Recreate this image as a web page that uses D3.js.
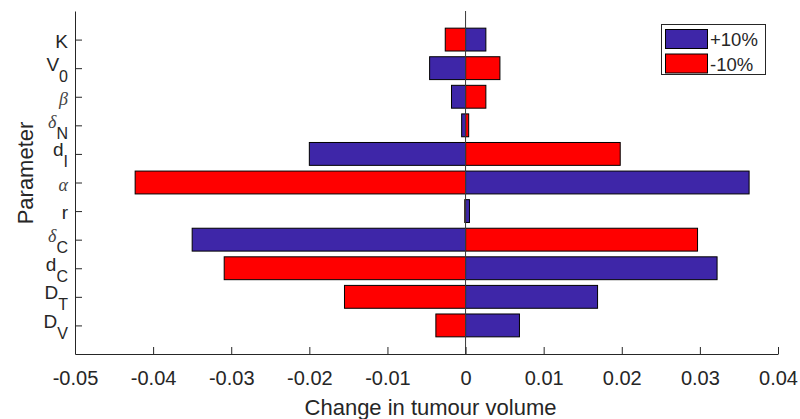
<!DOCTYPE html>
<html>
  <head>
    <meta charset="utf-8">
    <script src="https://d3js.org/d3.v7.min.js"></script>
    <style>
      body { margin: 0; background: white; }
      text { font-family: "Liberation Sans", Arial, sans-serif; fill: #262626; }
      .greek { font-family: "Liberation Serif", serif; font-style: italic; fill: #444; }
    </style>
  </head>
  <body>
    <div id="chart"></div>
<script>
// parameters from top to bottom
var labelMain = ["K", "V", "\u03b2", "\u03b4", "d", "\u03b1", "r", "\u03b4", "d", "D", "D"];
var labelSub  = ["",  "0", "",       "N",      "I", "",       "",  "C",      "C", "T", "V"];
var labelGreek = [false, false, true, true, false, true, false, true, false, false, false];

// change in tumour volume for +10% and -10% perturbation
var plus10  = [0.0026, -0.0046, -0.0018, -0.0005, -0.0200, 0.0363, 0.0005, -0.0350, 0.0322, 0.0169, 0.0069];
var minus10 = [-0.0026, 0.0044, 0.0026, 0.0004, 0.0198, -0.0423, -0.0001, 0.0297, -0.0309, -0.0155, -0.0038];

var xTicks = [-0.05, -0.04, -0.03, -0.02, -0.01, 0, 0.01, 0.02, 0.03, 0.04];
var seriesNames = ["+10%", "-10%"];
var seriesColors = ["#3e26a8", "#ff0000"];

var width = 800, height = 419;
var axLeft = 75, axRight = 778, axTop = 11, axBottom = 354;

var svg = d3.select("#chart").append("svg")
  .attr("width", width)
  .attr("height", height);

var x = d3.scaleLinear().domain([-0.05, 0.04]).range([axLeft, axRight]);
var y = d3.scaleLinear().domain([0, 12]).range([axBottom, axTop]);
var pos = function(i) { return labelMain.length - i; };
var barH = (y(0) - y(0.8));

// bars: red first then blue
[minus10, plus10].forEach(function(vals, k) {
  var color = k === 0 ? seriesColors[1] : seriesColors[0];
  svg.append("g").selectAll("rect")
    .data(vals).enter()
    .append("rect")
    .attr("x", function(d) { return Math.min(x(0), x(d)); })
    .attr("width", function(d) { return Math.abs(x(d) - x(0)); })
    .attr("y", function(d, i) { return y(pos(i)) - barH / 2; })
    .attr("height", barH)
    .attr("fill", color)
    .attr("stroke", "#000")
    .attr("stroke-width", 1);
});

// zero line
svg.append("line")
  .attr("x1", x(0)).attr("x2", x(0))
  .attr("y1", axTop).attr("y2", axBottom)
  .attr("stroke", "#3a3a3a")
  .attr("stroke-width", 1);

// x axis
var xAxis = d3.axisBottom(x)
  .tickValues(xTicks)
  .tickSizeInner(-7)
  .tickSizeOuter(0)
  .tickPadding(14)
  .tickFormat(function(d) { return d === 0 ? "0" : d.toFixed(2); });

var gx = svg.append("g")
  .attr("transform", "translate(0," + axBottom + ")")
  .call(xAxis);
gx.select(".domain").attr("stroke", "#262626");
gx.selectAll(".tick line").attr("stroke", "#262626");
gx.selectAll(".tick text")
  .attr("y", 0).attr("dy", 0)
  .attr("transform", "translate(0,31)")
  .style("font-size", "20px").attr("fill", "#262626");

// y axis
var yAxis = d3.axisLeft(y)
  .tickValues(d3.range(1, 12))
  .tickSizeInner(-7)
  .tickSizeOuter(0)
  .tickFormat("");

var gy = svg.append("g")
  .attr("transform", "translate(" + axLeft + ",0)")
  .call(yAxis);
gy.select(".domain").attr("stroke", "#262626");
gy.selectAll(".tick line").attr("stroke", "#262626");

// y tick labels with subscripts
labelMain.forEach(function(m, i) {
  var ty = y(pos(i));
  var t = svg.append("text")
    .attr("x", 68)
    .attr("text-anchor", "end")
    .style("font-size", "19px");
  if (labelSub[i]) {
    t.attr("y", ty + 2.5);
  } else {
    t.attr("y", ty + 8);
  }
  var main = t.append("tspan").text(m);
  if (labelGreek[i]) main.attr("class", "greek").style("font-size", "18px");
  if (labelSub[i]) {
    t.append("tspan")
      .attr("dy", 11)
      .style("font-size", "16px")
      .text(labelSub[i]);
  }
});

// axis titles
svg.append("text")
  .attr("x", (axLeft + axRight) / 2 + 4)
  .attr("y", 415)
  .attr("text-anchor", "middle")
  .style("font-size", "22px")
  .text("Change in tumour volume");

svg.append("text")
  .attr("transform", "translate(33,173) rotate(-90)")
  .attr("text-anchor", "middle")
  .style("font-size", "22px")
  .text("Parameter");

// legend
var legend = svg.append("g");
legend.append("rect")
  .attr("x", 661.5).attr("y", 24.5)
  .attr("width", 104).attr("height", 50)
  .attr("fill", "white")
  .attr("stroke", "#262626")
  .attr("stroke-width", 1);

seriesNames.forEach(function(name, i) {
  legend.append("rect")
    .attr("x", 665.5).attr("y", 29.5 + i * 24.5)
    .attr("width", 42).attr("height", 19)
    .attr("fill", seriesColors[i])
    .attr("stroke", "#000");
  legend.append("text")
    .attr("x", 710).attr("y", 46 + i * 24.5)
    .style("font-size", "18.5px")
    .text(name);
});
</script>
  </body>
</html>
